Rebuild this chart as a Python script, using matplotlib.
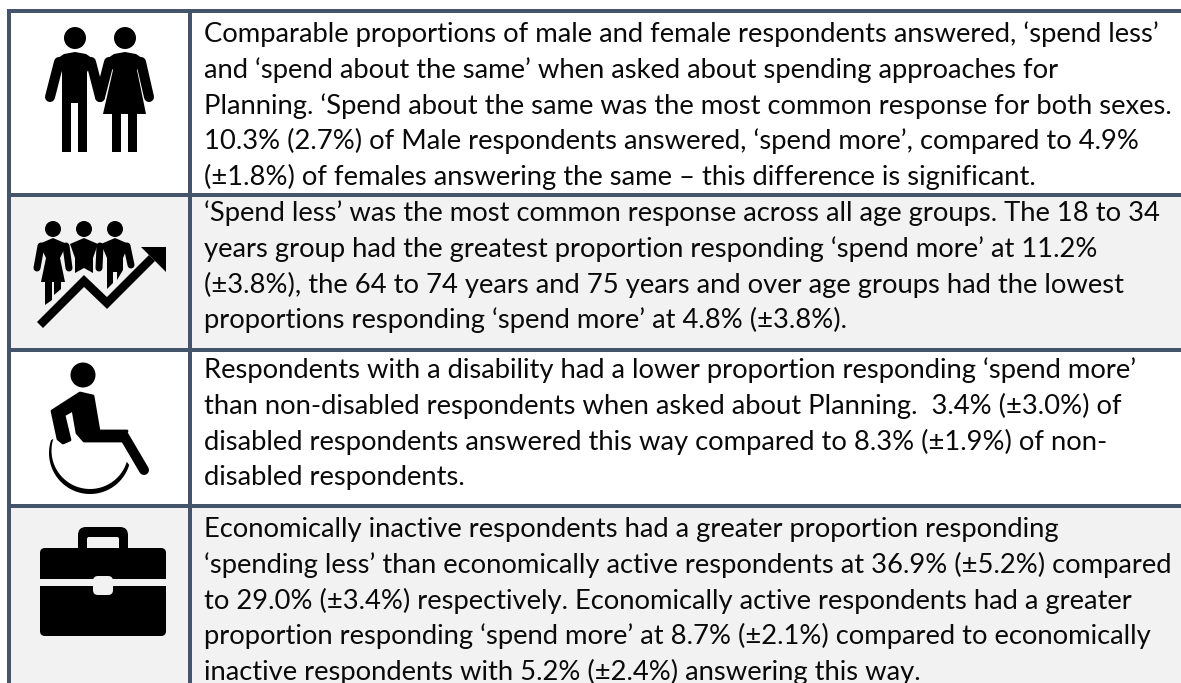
"""Summary table with icons, drawn in pixel coordinates."""

import matplotlib
matplotlib.use('Agg')
import matplotlib.pyplot as plt
import numpy as np
from matplotlib.patches import Circle, Polygon, Rectangle, FancyBboxPatch

W, H = 1181, 683
BORDER = '#44546A'
SHADE = '#F2F2F2'

row_text = [
    ["Comparable proportions of male and female respondents answered, ‘spend less’",
     "and ‘spend about the same’ when asked about spending approaches for",
     "Planning. ‘Spend about the same was the most common response for both sexes.",
     "10.3% (2.7%) of Male respondents answered, ‘spend more’, compared to 4.9%",
     "(±1.8%) of females answering the same – this difference is significant."],
    ["‘Spend less’ was the most common response across all age groups. The 18 to 34",
     "years group had the greatest proportion responding ‘spend more’ at 11.2%",
     "(±3.8%), the 64 to 74 years and 75 years and over age groups had the lowest",
     "proportions responding ‘spend more’ at 4.8% (±3.8%)."],
    ["Respondents with a disability had a lower proportion responding ‘spend more’",
     "than non-disabled respondents when asked about Planning.  3.4% (±3.0%) of",
     "disabled respondents answered this way compared to 8.3% (±1.9%) of non-",
     "disabled respondents."],
    ["Economically inactive respondents had a greater proportion responding",
     "‘spending less’ than economically active respondents at 36.9% (±5.2%) compared",
     "to 29.0% (±3.4%) respectively. Economically active respondents had a greater",
     "proportion responding ‘spend more’ at 8.7% (±2.1%) compared to economically",
     "inactive respondents with 5.2% (±2.4%) answering this way."],
]
first_baseline = [42, 221, 378, 537]
line_step = 35.8
row_edges = [11, 194.5, 350.2, 506, 683]
row_fill = ['white', SHADE, 'white', SHADE]


def limb(ax, pts, width, color='black', cap='round'):
    xs, ys = zip(*pts)
    ax.plot(xs, ys, color=color, lw=width * 0.72, solid_capstyle=cap,
            solid_joinstyle='miter', zorder=3)


def poly(ax, pts, color='black', edge=0):
    ax.add_patch(Polygon(pts, closed=True, fc=color, ec=color if edge else 'none',
                         lw=edge, joinstyle='round', zorder=3))


def rbox(ax, x0, y0, x1, y1, r, color='black', z=3):
    ax.add_patch(FancyBboxPatch((x0 + r, y0 + r), x1 - x0 - 2 * r, y1 - y0 - 2 * r,
                                boxstyle=f'round,pad={r},rounding_size={r}',
                                fc=color, ec='none', zorder=z))


def draw_couple(ax):
    ax.add_patch(Circle((75, 38), 11, fc='black', zorder=3))
    ax.add_patch(Circle((125, 38), 11, fc='black', zorder=3))
    # man
    poly(ax, [(55, 60), (64, 54), (75, 52), (86, 54), (95, 60), (87, 72),
              (87, 152), (78, 152), (78, 103), (71, 103), (71, 152), (62, 152), (62, 72)])
    limb(ax, [(59, 62), (50, 97)], 10)
    limb(ax, [(91, 62), (100, 97)], 10)
    # woman
    poly(ax, [(105, 60), (114, 54), (125, 52), (136, 54), (145, 60), (137, 70),
              (146, 114), (137, 114), (137, 152), (128, 152), (128, 114), (121, 114),
              (121, 152), (112, 152), (112, 114), (103, 114), (113, 70)])
    limb(ax, [(109, 62), (100, 97)], 10)
    limb(ax, [(141, 62), (149, 97)], 10)


def draw_group(ax):
    for cx in (53, 84, 115):
        ax.add_patch(Circle((cx, 229), 8, fc='black', zorder=3))
    poly(ax, [(39, 244), (53, 238), (67, 244), (60, 258), (65, 282), (41, 282), (46, 258)])
    poly(ax, [(45, 282), (52, 282), (52, 300), (45, 305)])
    poly(ax, [(54, 282), (61, 282), (61, 289), (54, 295)])
    poly(ax, [(70, 244), (84, 238), (98, 244), (93, 258), (93, 273), (84, 268), (75, 273), (75, 258)])
    poly(ax, [(101, 244), (115, 238), (129, 244), (123, 258), (123, 270), (117, 280),
              (117, 272), (113, 272), (113, 283), (107, 289), (107, 258)])
    limb(ax, [(41, 246), (37, 268)], 7)
    limb(ax, [(66, 246), (69, 268)], 7)
    limb(ax, [(100, 246), (99, 268)], 7)
    limb(ax, [(127, 246), (131, 265)], 7)
    limb(ax, [(40, 325), (84, 281), (107, 303), (152, 258)], 8.5, cap='butt')
    poly(ax, [(141, 247), (166, 247), (166, 272)])


def draw_wheelchair(ax):
    ax.add_patch(Circle((83, 375), 12.5, fc='black', zorder=3))
    poly(ax, [(52, 411), (80, 393), (93, 396), (99, 431), (127, 431), (123, 441),
              (84, 441), (77, 433), (73, 410), (64, 415), (70, 440), (63, 443), (58, 439)],
         edge=2)
    limb(ax, [(124, 436), (144, 470)], 10)
    # wheel crescent, thicker at the bottom
    t = np.radians(np.linspace(17, 198, 60))
    outer = np.column_stack([90 + 41 * np.cos(t), 453 + 41 * np.sin(t)])
    inner = np.column_stack([90 + 38.5 * np.cos(t[::-1]), 450.5 + 38.5 * np.sin(t[::-1])])
    poly(ax, np.vstack([outer, inner]))


def draw_briefcase(ax):
    rbox(ax, 78, 527, 128, 560, 8)
    rbox(ax, 87, 537, 119, 560, 2, color=SHADE, z=3.1)
    rbox(ax, 40, 548, 166, 636, 5, z=3.2)
    ax.add_patch(Rectangle((40, 579), 126, 7, fc=SHADE, ec='none', zorder=3.3))
    rbox(ax, 93, 576, 113, 595, 5, color=SHADE, z=3.4)


fig = plt.figure(figsize=(W / 100, H / 100), dpi=100)
ax = fig.add_axes([0, 0, 1, 1])
ax.set_xlim(0, W)
ax.set_ylim(H, 0)
ax.axis('off')

for i, fill in enumerate(row_fill):
    ax.add_patch(Rectangle((11, row_edges[i]), W - 11, row_edges[i + 1] - row_edges[i],
                           fc=fill, ec='none', zorder=1))

# table rules
for y in row_edges[:-1]:
    ax.plot([7, W], [y, y], color=BORDER, lw=4 * 0.72, solid_capstyle='butt', zorder=2)
for x in (9.2, 190):
    ax.plot([x, x], [9, H], color=BORDER, lw=4 * 0.72, solid_capstyle='butt', zorder=2)

draw_couple(ax)
draw_group(ax)
draw_wheelchair(ax)
draw_briefcase(ax)

for lines, y0 in zip(row_text, first_baseline):
    for j, line in enumerate(lines):
        ax.text(204, y0 + j * line_step, line, family='Lato', fontsize=19.7,
                color='#0A0A0A', va='baseline', ha='left', zorder=4)

fig.savefig('out.png', dpi=100)
